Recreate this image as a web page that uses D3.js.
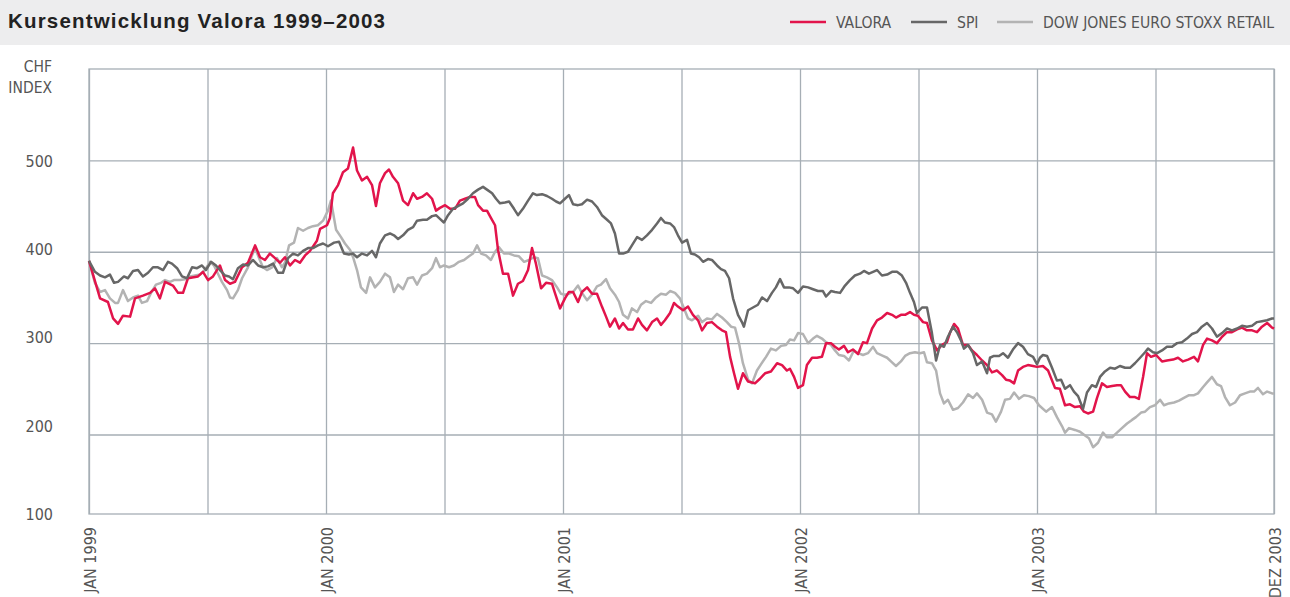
<!DOCTYPE html>
<html lang="de">
<head>
  <meta charset="UTF-8">
  <title>Kursentwicklung Valora 1999–2003</title>
  <style>
    body { margin: 0; background: #fff; }
    svg { display: block; }
    .lab { font-family: "Liberation Sans Narrow", "DejaVu Sans Condensed", "Roboto", sans-serif; fill: #555; }
    .grid line, .grid path { stroke: #a6aeb5; stroke-width: 1.3; }
    .series { fill: none; stroke-width: 2.5; stroke-linejoin: round; }
  </style>
</head>
<body>
  <svg width="1290" height="597"></svg>

  <script src="https://d3js.org/d3.v7.min.js"></script>
  <script>
    // months since Jan 1999, value
    const valora = [[0,390],[0.56,349],[0.96,345],[1.22,327],[1.47,321],[1.72,330],[2.08,329],[2.33,349],[2.73,352],[3.09,355],[3.34,360],[3.59,349],[3.85,367],[4.25,363],[4.51,355],[4.76,355],[5.01,371],[5.52,373],[5.77,378],[6.03,369],[6.28,373],[6.63,385],[6.89,369],[7.14,365],[7.39,367],[7.75,383],[8.05,388],[8.41,407],[8.66,394],[8.91,391],[9.16,398],[9.42,393],[9.67,388],[9.92,394],[10.18,385],[10.43,391],[10.68,388],[10.94,396],[11.19,401],[11.54,412],[11.7,425],[12.05,429],[12.2,437],[12.35,464],[12.61,473],[12.86,487],[13.11,491],[13.37,514],[13.57,489],[13.82,478],[14.08,482],[14.33,473],[14.53,450],[14.73,475],[14.99,486],[15.19,490],[15.39,482],[15.65,475],[15.9,456],[16.15,451],[16.41,464],[16.61,458],[16.86,460],[17.11,464],[17.37,458],[17.57,445],[17.77,448],[18.03,451],[18.28,447],[18.53,447],[18.78,456],[19.04,458],[19.29,460],[19.54,460],[19.7,451],[19.95,445],[20.15,445],[20.35,437],[20.56,429],[20.71,402],[20.96,376],[21.22,376],[21.47,352],[21.72,365],[21.97,368],[22.23,380],[22.43,404],[22.63,387],[22.89,360],[23.14,366],[23.44,365],[23.59,355],[23.85,338],[24.1,349],[24.3,356],[24.51,356],[24.76,345],[24.96,356],[25.22,361],[25.47,354],[25.72,354],[25.97,340],[26.18,329],[26.38,318],[26.63,327],[26.84,316],[27.04,322],[27.29,315],[27.54,315],[27.8,327],[28,320],[28.25,314],[28.51,323],[28.76,327],[28.96,320],[29.16,325],[29.42,333],[29.62,344],[29.82,340],[30.08,336],[30.33,340],[30.58,331],[30.84,325],[31.04,314],[31.29,322],[31.54,323],[31.8,318],[32.05,314],[32.25,312],[32.46,285],[32.66,267],[32.86,250],[33.11,267],[33.37,258],[33.72,256],[33.97,261],[34.23,267],[34.53,269],[34.84,278],[35.09,276],[35.34,270],[35.49,272],[35.7,263],[35.9,251],[36.15,254],[36.35,276],[36.61,284],[36.86,284],[37.11,285],[37.32,300],[37.57,300],[37.77,296],[37.97,293],[38.23,297],[38.43,290],[38.68,293],[38.94,288],[39.19,301],[39.39,300],[39.65,316],[39.9,325],[40.15,328],[40.41,333],[40.66,331],[40.86,328],[41.11,331],[41.32,331],[41.57,334],[41.77,331],[41.97,330],[42.23,323],[42.43,322],[42.68,303],[42.94,292],[43.19,298],[43.44,301],[43.59,311],[43.8,321],[44,316],[44.25,298],[44.51,298],[44.71,292],[44.96,287],[45.22,281],[45.47,276],[45.72,268],[45.97,270],[46.23,265],[46.43,260],[46.63,259],[46.84,256],[47.04,270],[47.29,274],[47.54,276],[47.8,275],[48,274],[48.3,275],[48.56,270],[48.91,251],[49.16,250],[49.42,232],[49.67,233],[49.92,230],[50.18,231],[50.38,225],[50.58,223],[50.84,225],[51.04,240],[51.29,256],[51.54,252],[51.8,253],[52.05,254],[52.25,254],[52.46,247],[52.71,241],[52.96,241],[53.16,239],[53.37,263],[53.57,289],[53.77,285],[54.03,287],[54.33,280],[54.58,281],[54.89,282],[55.14,284],[55.39,280],[55.65,282],[55.95,285],[56.15,280],[56.41,298],[56.61,305],[56.86,303],[57.11,300],[57.37,307],[57.62,312],[57.87,312],[58.13,315],[58.38,317],[58.63,314],[58.89,314],[59.14,312],[59.39,318],[59.65,322],[59.9,317],[60,316]];

    const spi = [[0,390],[0.3,378],[0.56,374],[0.81,372],[1.06,375],[1.27,366],[1.47,367],[1.77,373],[1.97,371],[2.23,379],[2.48,380],[2.73,373],[2.99,377],[3.24,383],[3.49,383],[3.75,380],[4,389],[4.2,387],[4.46,382],[4.71,373],[4.96,371],[5.22,383],[5.47,382],[5.72,385],[5.92,380],[6.18,389],[6.43,385],[6.63,380],[6.89,374],[7.09,373],[7.29,370],[7.54,382],[7.8,386],[8.05,385],[8.3,391],[8.56,385],[8.81,383],[9.06,384],[9.32,387],[9.57,377],[9.82,377],[10.08,393],[10.33,398],[10.58,396],[10.84,401],[11.09,404],[11.34,404],[11.59,407],[11.85,409],[12.1,406],[12.41,410],[12.66,411],[12.91,398],[13.16,397],[13.37,398],[13.57,394],[13.82,398],[14.08,396],[14.33,401],[14.53,394],[14.73,409],[14.99,418],[15.24,420],[15.44,418],[15.65,414],[15.9,418],[16.15,424],[16.41,427],[16.61,434],[16.91,435],[17.11,435],[17.37,439],[17.57,440],[17.77,436],[17.97,432],[18.18,440],[18.43,447],[18.68,450],[18.94,453],[19.19,458],[19.44,464],[19.7,468],[19.95,471],[20.15,468],[20.41,464],[20.61,458],[20.81,453],[21.06,454],[21.27,455],[21.52,447],[21.72,440],[21.97,447],[22.23,456],[22.48,464],[22.68,462],[22.94,463],[23.19,461],[23.44,458],[23.65,455],[23.85,453],[24.1,458],[24.3,462],[24.51,452],[24.76,451],[24.96,452],[25.22,457],[25.47,455],[25.72,449],[25.97,440],[26.23,435],[26.43,431],[26.63,420],[26.84,398],[27.04,398],[27.29,400],[27.49,407],[27.75,416],[28,413],[28.25,418],[28.51,424],[28.76,431],[28.96,437],[29.16,432],[29.42,431],[29.62,427],[29.82,418],[30.03,410],[30.28,413],[30.48,398],[30.68,397],[30.89,394],[31.09,389],[31.34,392],[31.54,391],[31.8,385],[32,381],[32.2,379],[32.41,371],[32.61,349],[32.86,331],[33.06,323],[33.16,318],[33.37,336],[33.62,339],[33.87,342],[34.08,350],[34.33,346],[34.58,355],[34.78,361],[34.99,370],[35.19,361],[35.44,361],[35.65,360],[35.9,355],[36.15,362],[36.41,361],[36.66,359],[36.91,357],[37.16,357],[37.32,351],[37.57,357],[37.77,356],[38.03,355],[38.28,363],[38.53,369],[38.78,374],[39.04,376],[39.24,379],[39.49,376],[39.7,378],[39.9,380],[40.15,374],[40.41,375],[40.66,378],[40.91,378],[41.16,374],[41.37,366],[41.57,355],[41.77,345],[41.92,333],[42.18,339],[42.43,339],[42.68,311],[42.89,281],[43.09,298],[43.29,296],[43.49,307],[43.75,318],[43.95,312],[44.15,303],[44.3,294],[44.51,298],[44.76,289],[44.96,276],[45.22,280],[45.47,267],[45.62,284],[45.82,286],[46.08,286],[46.28,289],[46.53,284],[46.78,293],[47.04,300],[47.29,296],[47.54,288],[47.8,285],[48,277],[48.15,284],[48.3,287],[48.51,286],[48.76,273],[49.01,259],[49.22,260],[49.42,250],[49.67,254],[49.87,247],[50.08,242],[50.33,228],[50.53,246],[50.78,254],[50.99,252],[51.19,263],[51.44,269],[51.7,273],[51.95,272],[52.2,275],[52.46,273],[52.71,273],[52.96,278],[53.22,284],[53.47,290],[53.62,294],[53.87,290],[54.08,289],[54.33,292],[54.58,296],[54.84,296],[55.09,300],[55.34,301],[55.59,305],[55.85,310],[56.1,312],[56.35,318],[56.61,322],[56.86,316],[57.11,307],[57.37,311],[57.62,316],[57.87,314],[58.13,316],[58.38,319],[58.63,318],[58.89,319],[59.14,323],[59.39,324],[59.65,325],[59.9,327],[60,327]];

    const stoxx = [[0,390],[0.3,366],[0.56,356],[0.81,358],[1.06,349],[1.32,344],[1.47,344],[1.72,358],[1.97,346],[2.23,350],[2.48,352],[2.68,344],[2.94,346],[3.14,355],[3.39,364],[3.65,366],[3.85,369],[4.1,367],[4.3,369],[4.61,369],[4.86,370],[5.11,373],[5.37,374],[5.62,375],[5.87,380],[6.13,389],[6.33,385],[6.53,376],[6.73,367],[6.99,358],[7.14,350],[7.29,349],[7.54,358],[7.75,371],[8.05,383],[8.25,396],[8.41,404],[8.61,393],[8.81,383],[9.01,380],[9.27,383],[9.52,393],[9.77,383],[9.92,388],[10.13,407],[10.38,410],[10.58,426],[10.84,423],[11.09,426],[11.34,428],[11.59,429],[11.85,434],[12.1,445],[12.25,456],[12.51,424],[12.76,416],[12.96,409],[13.22,402],[13.37,394],[13.57,380],[13.77,361],[14.03,355],[14.23,372],[14.48,361],[14.73,367],[14.99,376],[15.24,372],[15.44,356],[15.65,364],[15.9,359],[16.15,371],[16.41,372],[16.61,364],[16.86,374],[17.11,376],[17.37,382],[17.57,393],[17.77,383],[17.97,385],[18.23,383],[18.48,385],[18.73,389],[18.99,391],[19.24,395],[19.44,398],[19.65,407],[19.85,398],[20.1,396],[20.35,391],[20.56,400],[20.76,405],[21.01,398],[21.27,398],[21.52,396],[21.77,395],[22.03,389],[22.28,391],[22.53,394],[22.73,393],[22.94,374],[23.19,372],[23.44,369],[23.7,361],[23.9,354],[24.1,353],[24.3,354],[24.51,356],[24.76,363],[24.96,355],[25.22,347],[25.47,353],[25.72,362],[25.92,364],[26.18,370],[26.38,360],[26.63,353],[26.84,345],[27.04,331],[27.29,327],[27.49,338],[27.75,334],[27.95,342],[28.2,346],[28.46,344],[28.71,350],[28.96,354],[29.22,353],[29.42,357],[29.67,355],[29.92,349],[30.13,338],[30.33,327],[30.53,325],[30.84,330],[31.04,323],[31.29,327],[31.54,326],[31.8,332],[32.05,328],[32.3,323],[32.51,318],[32.71,317],[32.91,300],[33.11,278],[33.37,260],[33.57,256],[33.82,270],[34.03,277],[34.28,285],[34.53,294],[34.78,292],[35.04,297],[35.29,298],[35.49,304],[35.7,303],[35.9,311],[36.15,310],[36.41,300],[36.66,305],[36.86,308],[37.11,305],[37.32,301],[37.57,298],[37.77,292],[37.97,287],[38.23,286],[38.48,281],[38.73,292],[38.94,289],[39.19,287],[39.44,289],[39.7,296],[39.9,289],[40.2,286],[40.41,284],[40.66,279],[40.86,275],[41.11,280],[41.32,286],[41.57,289],[41.82,290],[42.08,289],[42.28,290],[42.43,279],[42.68,278],[42.89,270],[43.09,245],[43.29,234],[43.49,238],[43.75,227],[44,229],[44.25,235],[44.51,244],[44.76,240],[44.96,245],[45.22,238],[45.47,224],[45.72,222],[45.92,214],[46.18,225],[46.38,238],[46.63,239],[46.84,246],[47.09,239],[47.34,243],[47.59,242],[47.85,240],[48.1,232],[48.46,225],[48.76,230],[49.01,219],[49.27,209],[49.42,202],[49.62,207],[49.92,205],[50.18,203],[50.43,199],[50.63,196],[50.84,186],[51.09,191],[51.34,202],[51.54,197],[51.8,197],[52.05,202],[52.3,207],[52.56,212],[52.81,216],[53.01,219],[53.27,224],[53.47,225],[53.72,230],[53.97,232],[54.23,238],[54.43,232],[54.68,234],[54.94,235],[55.19,237],[55.44,240],[55.7,243],[55.95,243],[56.15,245],[56.41,252],[56.61,257],[56.86,263],[57.11,255],[57.32,253],[57.52,241],[57.77,232],[58.03,235],[58.28,243],[58.53,245],[58.78,247],[58.99,247],[59.19,251],[59.44,244],[59.65,247],[59.9,245],[60,245]];

    const yGridValues = [200, 300, 400, 500];
    const yLabelValues = [100, 200, 300, 400, 500];
    const xGridMonths = d3.range(0, 61, 6);
    const xLabelMonths = [0, 12, 24, 36, 48, 60];
    const xLabelTexts = ["JAN 1999", "JAN 2000", "JAN 2001", "JAN 2002", "JAN 2003", "DEZ 2003"];

    const seriesList = [
      { name: "DOW JONES EURO STOXX RETAIL", data: stoxx, color: "#b3b3b3" },
      { name: "VALORA", data: valora, color: "#e2144b" },
      { name: "SPI", data: spi, color: "#676767" }
    ];
    const legendOrder = ["VALORA", "SPI", "DOW JONES EURO STOXX RETAIL"];

    const svg = d3.select("svg");
    const W = 1290;
    const plotL = 89, plotR = 1274, plotT = 69, plotB = 514;

    // title bar
    svg.append("rect").attr("x", 0).attr("y", 0).attr("width", W).attr("height", 45).attr("fill", "#ededee");
    svg.append("text")
      .attr("x", 8).attr("y", 28)
      .attr("font-family", "'Liberation Sans', Arial, sans-serif")
      .attr("font-weight", "bold").attr("font-size", 20.5).attr("fill", "#222")
      .attr("textLength", 377).attr("lengthAdjust", "spacing")
      .text("Kursentwicklung Valora 1999–2003");

    const x = d3.scaleLinear().domain([0, 60]).range([plotL, plotR]);
    const y = d3.scaleLinear().domain([113, 600]).range([plotB, plotT]);
    const yLab = d3.scaleLinear().domain([100, 500]).range([514.5, 161]);

    // grid
    svg.append("g").attr("class", "grid")
      .attr("transform", `translate(0,${plotB})`)
      .call(d3.axisBottom(x).tickValues(xGridMonths).tickSize(-(plotB - plotT)).tickFormat(""))
      .call(g => g.select(".domain").remove());
    svg.append("g").attr("class", "grid")
      .attr("transform", `translate(${plotL},0)`)
      .call(d3.axisLeft(y).tickValues(yGridValues).tickSize(-(plotR - plotL)).tickFormat(""))
      .call(g => g.select(".domain").remove());
    svg.append("rect")
      .attr("x", plotL).attr("y", plotT).attr("width", plotR - plotL).attr("height", plotB - plotT)
      .attr("fill", "none").attr("stroke", "#a6aeb5").attr("stroke-width", 1.3);

    // y labels
    svg.append("g")
      .attr("transform", `translate(53,0)`)
      .call(d3.axisLeft(yLab).tickValues(yLabelValues).tickSize(0).tickPadding(0))
      .call(g => g.select(".domain").remove())
      .selectAll("text").attr("class", "lab").attr("font-size", 16);

    svg.append("text").attr("class", "lab").attr("x", 52).attr("y", 72)
      .attr("text-anchor", "end").attr("font-size", 15.5).text("CHF");
    svg.append("text").attr("class", "lab").attr("x", 52).attr("y", 93)
      .attr("text-anchor", "end").attr("font-size", 15.5).text("INDEX");

    // x labels
    const xl = svg.append("g")
      .attr("transform", `translate(0,${plotB})`)
      .call(d3.axisBottom(x).tickValues(xLabelMonths).tickSize(0).tickFormat((d, i) => xLabelTexts[i]))
      .call(g => g.select(".domain").remove());
    xl.selectAll("text")
      .attr("class", "lab").attr("font-size", 16)
      .attr("text-anchor", "end")
      .attr("transform", "rotate(-90)")
      .attr("x", -13).attr("y", 1).attr("dy", "0.35em");

    // lines
    const line = d3.line().x(d => x(d[0])).y(d => y(d[1]));
    svg.append("g").selectAll("path")
      .data(seriesList)
      .join("path")
      .attr("class", "series")
      .attr("stroke", d => d.color)
      .attr("d", d => line(d.data));

    // legend
    const legendX = [790, 911, 997];
    const lg = svg.append("g");
    legendOrder.forEach((name, i) => {
      const s = seriesList.find(d => d.name === name);
      lg.append("line")
        .attr("x1", legendX[i]).attr("x2", legendX[i] + 36)
        .attr("y1", 22).attr("y2", 22)
        .attr("stroke", s.color).attr("stroke-width", 2.6);
      lg.append("text").attr("class", "lab")
        .attr("x", legendX[i] + 46).attr("y", 28)
        .attr("font-size", 15.6)
        .text(name);
    });
  </script>
</body>
</html>
